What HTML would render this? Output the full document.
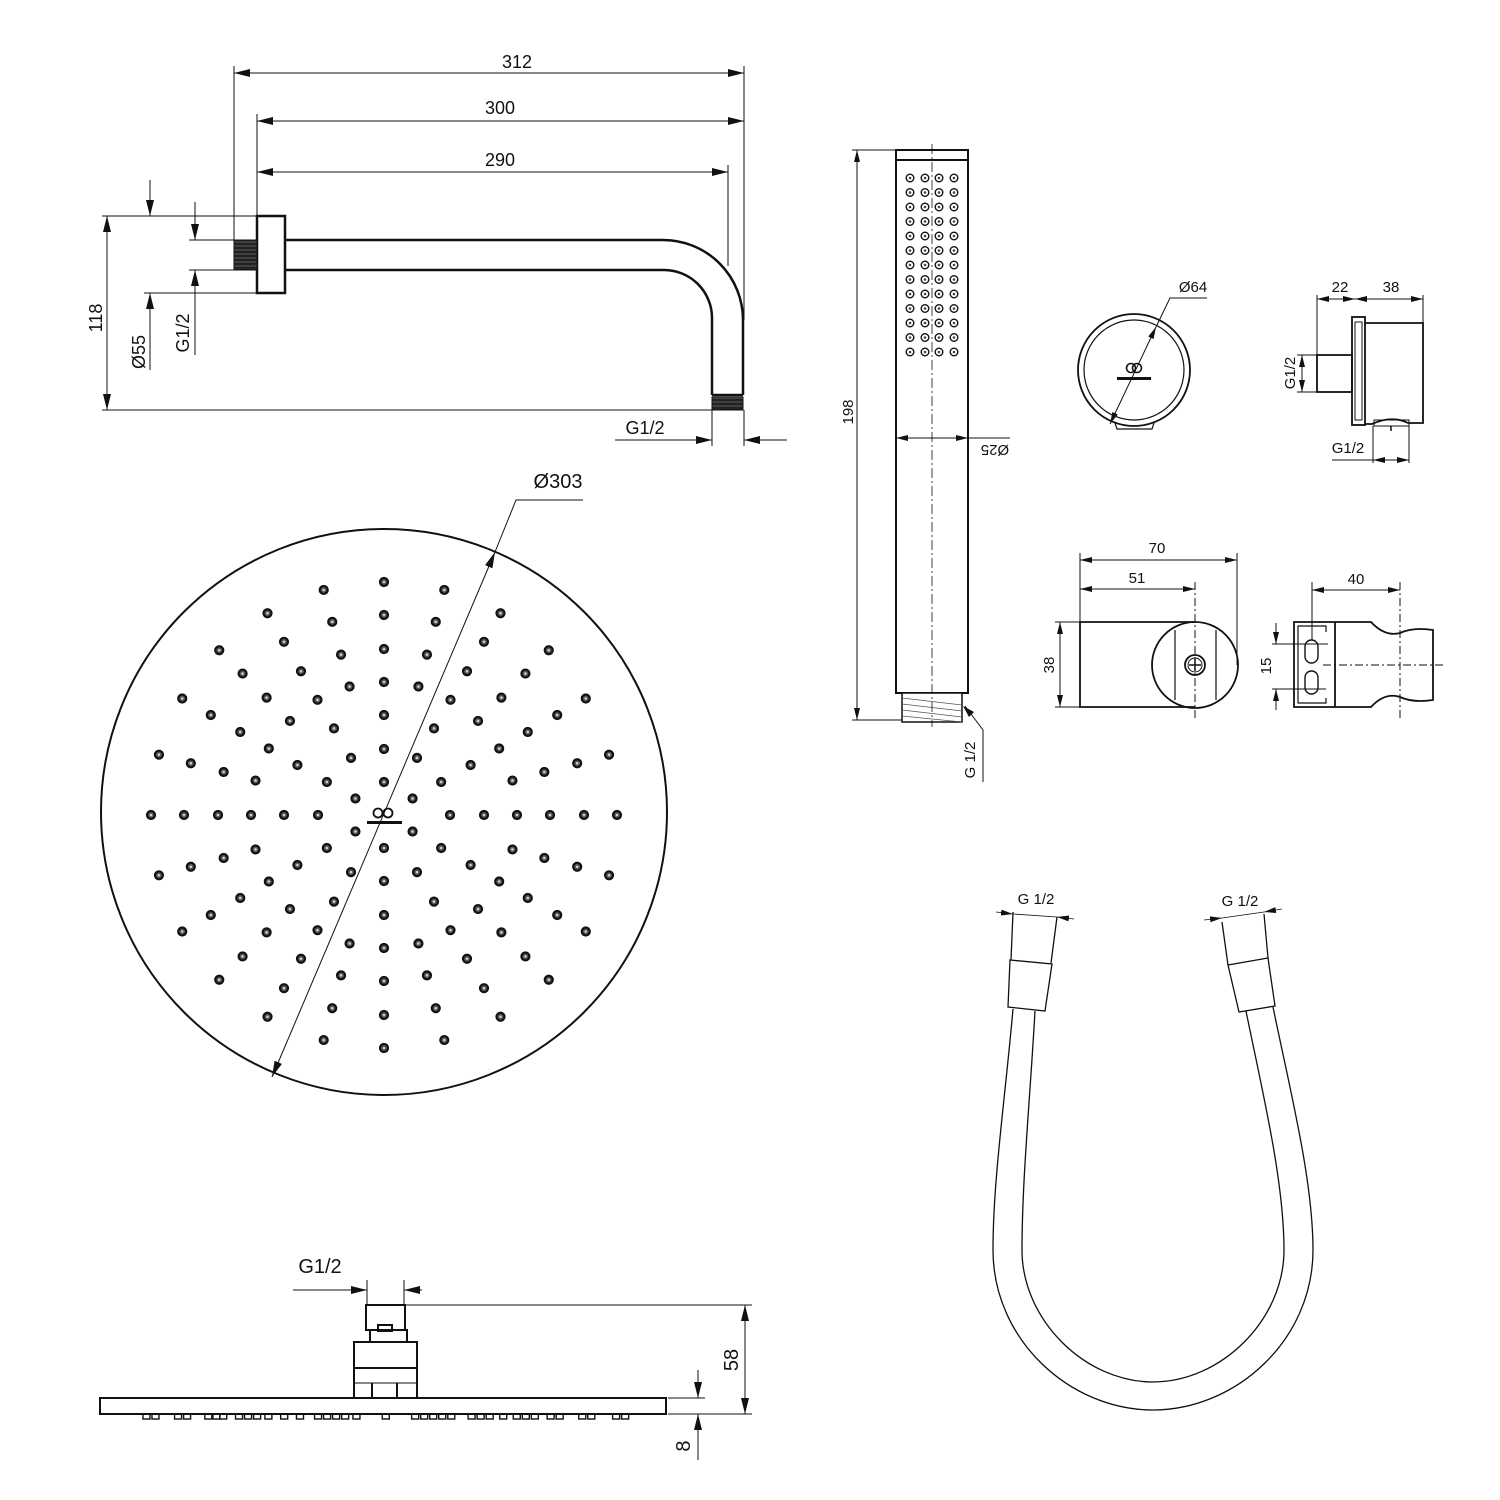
<!DOCTYPE html>
<html><head><meta charset="utf-8"><style>
html,body{margin:0;padding:0;background:#fff}
svg{display:block}
text{font-family:"Liberation Sans",sans-serif;fill:#111}
</style></head><body>
<svg id="s" width="1500" height="1500" viewBox="0 0 1500 1500" xmlns="http://www.w3.org/2000/svg">
<defs>
<marker id="a" viewBox="0 0 12 6" refX="12" refY="3" markerWidth="12" markerHeight="6" markerUnits="userSpaceOnUse" orient="auto-start-reverse"><path d="M0,0 L12,3 L0,6 Z" fill="#111"/></marker>
<marker id="b" viewBox="0 0 16 8" refX="16" refY="4" markerWidth="16" markerHeight="8" markerUnits="userSpaceOnUse" orient="auto-start-reverse"><path d="M0,0 L16,4 L0,8 Z" fill="#111"/></marker>
<pattern id="h" width="4" height="4" patternUnits="userSpaceOnUse"><rect width="4" height="4" fill="#222"/><line x1="0" y1="2" x2="4" y2="2" stroke="#888" stroke-width="0.6"/></pattern>
</defs>
<g fill="none" stroke="#111" stroke-width="1">
<g stroke-width="2.5">
<rect x="257" y="216" width="28" height="77"/>
<path d="M285,240 H663 A80,80 0 0 1 743,320 V395"/>
<path d="M285,270 H664 A48,48 0 0 1 712,318 V395"/>
<line x1="712" y1="395" x2="743" y2="395"/>
</g>
<rect x="234" y="240" width="23" height="30" fill="url(#h)" stroke="#111"/>
<rect x="712" y="397" width="31" height="13" fill="url(#h)" stroke="#111"/>
<line x1="234" y1="66" x2="234" y2="240"/>
<line x1="744" y1="66" x2="744" y2="320"/>
<line x1="257" y1="114" x2="257" y2="216"/>
<line x1="728" y1="165" x2="728" y2="266"/>
<line x1="234" y1="73" x2="744" y2="73" marker-start="url(#b)" marker-end="url(#b)"/>
<line x1="257" y1="121" x2="744" y2="121" marker-start="url(#b)" marker-end="url(#b)"/>
<line x1="257" y1="172" x2="728" y2="172" marker-start="url(#b)" marker-end="url(#b)"/>
<line x1="102" y1="216" x2="257" y2="216"/>
<line x1="102" y1="410" x2="712" y2="410"/>
<line x1="107" y1="216" x2="107" y2="410" marker-start="url(#b)" marker-end="url(#b)"/>
<line x1="144" y1="293" x2="257" y2="293"/>
<line x1="150" y1="180" x2="150" y2="216" marker-end="url(#b)"/>
<line x1="150" y1="370" x2="150" y2="293" marker-end="url(#b)"/>
<line x1="189" y1="240" x2="234" y2="240"/>
<line x1="189" y1="270" x2="234" y2="270"/>
<line x1="195" y1="202" x2="195" y2="240" marker-end="url(#b)"/>
<line x1="195" y1="355" x2="195" y2="270" marker-end="url(#b)"/>
<line x1="712" y1="410" x2="712" y2="446"/>
<line x1="744" y1="410" x2="744" y2="446"/>
<line x1="615" y1="440" x2="712" y2="440" marker-end="url(#b)"/>
<line x1="787" y1="440" x2="744" y2="440" marker-end="url(#b)"/>
</g>
<text x="517" y="68" font-size="18" text-anchor="middle">312</text>
<text x="500" y="114" font-size="18" text-anchor="middle">300</text>
<text x="500" y="166" font-size="18" text-anchor="middle">290</text>
<text font-size="18" text-anchor="middle" transform="translate(102,318) rotate(-90)">118</text>
<text font-size="18" text-anchor="middle" transform="translate(145,352) rotate(-90)">Ø55</text>
<text font-size="18" text-anchor="middle" transform="translate(189,333) rotate(-90)">G1/2</text>
<text x="645" y="434" font-size="18" text-anchor="middle">G1/2</text>

<circle cx="384" cy="812" r="283" fill="none" stroke="#111" stroke-width="2"/>
<g id="dots"></g>
<g fill="#111"><circle cx="378" cy="813" r="4.5" fill="none" stroke="#111" stroke-width="1.8"/><circle cx="388" cy="813" r="4.5" fill="none" stroke="#111" stroke-width="1.8"/><rect x="367" y="821" width="35" height="3"/></g>
<line x1="272" y1="1077" x2="495" y2="552" stroke="#111" stroke-width="1" marker-start="url(#b)" marker-end="url(#b)"/>
<polyline points="495,552 516,500 583,500" fill="none" stroke="#111" stroke-width="1"/>
<text x="558" y="488" font-size="20" text-anchor="middle">Ø303</text>

<g fill="none" stroke="#111" stroke-width="2">
<rect x="100" y="1398" width="566" height="16"/>
<rect x="354" y="1342" width="63" height="56"/>
<line x1="354" y1="1368" x2="417" y2="1368"/>
<line x1="372" y1="1383" x2="372" y2="1398"/>
<line x1="397" y1="1383" x2="397" y2="1398"/>
<line x1="354" y1="1383" x2="417" y2="1383" stroke-width="1"/>
<rect x="370" y="1330" width="37" height="12"/>
<rect x="366" y="1305" width="39" height="25"/>
<rect x="378" y="1325" width="14" height="6"/>
</g>
<g id="nz" fill="none" stroke="#111" stroke-width="1.4"></g>
<g fill="none" stroke="#111" stroke-width="1">
<line x1="367" y1="1280" x2="367" y2="1305"/>
<line x1="404" y1="1280" x2="404" y2="1305"/>
<line x1="293" y1="1290" x2="367" y2="1290" marker-end="url(#b)"/>
<line x1="422" y1="1290" x2="404" y2="1290" marker-end="url(#b)"/>
<line x1="405" y1="1305" x2="752" y2="1305"/>
<line x1="668" y1="1398" x2="705" y2="1398"/>
<line x1="668" y1="1414" x2="752" y2="1414"/>
<line x1="745" y1="1305" x2="745" y2="1414" marker-start="url(#b)" marker-end="url(#b)"/>
<line x1="698" y1="1370" x2="698" y2="1398" marker-end="url(#b)"/>
<line x1="698" y1="1460" x2="698" y2="1414" marker-end="url(#b)"/>
</g>
<text x="320" y="1273" font-size="20" text-anchor="middle">G1/2</text>
<text font-size="20" text-anchor="middle" transform="translate(738,1360) rotate(-90)">58</text>
<text font-size="20" text-anchor="middle" transform="translate(690,1446) rotate(-90)">8</text>

<g fill="none" stroke="#111" stroke-width="2">
<rect x="896" y="150" width="72" height="543"/>
<line x1="896" y1="160" x2="968" y2="160"/>
</g>
<rect x="902" y="693" width="60" height="29" fill="#fff" stroke="#111" stroke-width="1.5"/>
<g stroke="#555" stroke-width="0.8"><line x1="902" y1="698" x2="962" y2="705"/><line x1="902" y1="704" x2="962" y2="711"/><line x1="902" y1="710" x2="962" y2="717"/><line x1="902" y1="716" x2="962" y2="722"/></g>
<line x1="932" y1="144" x2="932" y2="727" stroke="#111" stroke-width="0.8" stroke-dasharray="10,3,2,3"/>
<g id="hd"></g>
<g fill="none" stroke="#111" stroke-width="1">
<line x1="852" y1="150" x2="896" y2="150"/>
<line x1="852" y1="720" x2="902" y2="720"/>
<line x1="857" y1="150" x2="857" y2="720" marker-start="url(#a)" marker-end="url(#a)"/>
<line x1="896" y1="438" x2="968" y2="438" marker-start="url(#a)" marker-end="url(#a)"/>
<line x1="968" y1="438" x2="1010" y2="438"/>
<polyline points="965,706 983,730 983,782"/>
</g>
<polygon points="963,706 974,712 969,717" fill="#111"/>
<text font-size="15" text-anchor="middle" transform="translate(853,412) rotate(-90)">198</text>
<text font-size="15" text-anchor="middle" transform="translate(995,445) rotate(180)">Ø25</text>
<text font-size="15" text-anchor="middle" transform="translate(975,760) rotate(-90)">G 1/2</text>

<g fill="none" stroke="#111" stroke-width="1.8">
<circle cx="1134" cy="370" r="56"/>
<circle cx="1134" cy="370" r="50" stroke-width="1.2"/>
<path d="M1115,423 L1117,429 H1152 L1154,423" stroke-width="1.2"/>
</g>
<g fill="#111"><circle cx="1131" cy="368" r="4.5" fill="none" stroke="#111" stroke-width="1.6"/><circle cx="1137" cy="368" r="4.5" fill="none" stroke="#111" stroke-width="1.6"/><rect x="1117" y="377" width="34" height="3"/></g>
<line x1="1110" y1="424" x2="1156" y2="327" stroke="#111" stroke-width="1" marker-start="url(#a)" marker-end="url(#a)"/>
<polyline points="1156,327 1170,298 1207,298" fill="none" stroke="#111" stroke-width="1"/>
<text x="1193" y="292" font-size="15" text-anchor="middle">Ø64</text>

<g fill="none" stroke="#111" stroke-width="1.8">
<rect x="1352" y="317" width="13" height="108"/>
<rect x="1355" y="322" width="7" height="98" stroke-width="1"/>
<path d="M1365,323 H1423 V423 H1408 Q1392,415 1372,424 H1365"/>
<rect x="1317" y="355" width="35" height="37"/>
<rect x="1374" y="420" width="35" height="6" stroke-width="1"/>
<line x1="1391" y1="426" x2="1391" y2="431" stroke-width="1.5"/>
</g>
<g fill="none" stroke="#111" stroke-width="1">
<line x1="1317" y1="295" x2="1317" y2="355"/>
<line x1="1423" y1="295" x2="1423" y2="323"/>
<line x1="1317" y1="299" x2="1355" y2="299" marker-start="url(#a)" marker-end="url(#a)"/>
<line x1="1355" y1="299" x2="1423" y2="299" marker-start="url(#a)" marker-end="url(#a)"/>
<line x1="1297" y1="355" x2="1317" y2="355"/>
<line x1="1297" y1="392" x2="1317" y2="392"/>
<line x1="1302" y1="355" x2="1302" y2="392" marker-start="url(#a)" marker-end="url(#a)"/>
<line x1="1373" y1="426" x2="1373" y2="463"/>
<line x1="1409" y1="426" x2="1409" y2="463"/>
<line x1="1332" y1="460" x2="1409" y2="460"/>
<line x1="1373" y1="460" x2="1409" y2="460" marker-start="url(#a)" marker-end="url(#a)"/>
</g>
<text x="1340" y="292" font-size="15" text-anchor="middle">22</text>
<text x="1391" y="292" font-size="15" text-anchor="middle">38</text>
<text font-size="15" text-anchor="middle" transform="translate(1295,373) rotate(-90)">G1/2</text>
<text x="1348" y="453" font-size="15" text-anchor="middle">G1/2</text>

<g fill="none" stroke="#111" stroke-width="1.8">
<path d="M1195,622 H1080 V707 H1195"/>
<circle cx="1195" cy="665" r="43"/>
<line x1="1175" y1="630" x2="1175" y2="700" stroke-width="1.2"/>
<line x1="1216" y1="630" x2="1216" y2="700" stroke-width="1.2"/>
<circle cx="1195" cy="665" r="10"/>
<circle cx="1195" cy="665" r="7" stroke-width="1"/>
<path d="M1189,665 H1201 M1195,659 V671" stroke-width="1.5"/>
</g>
<g fill="none" stroke="#111" stroke-width="1">
<line x1="1080" y1="553" x2="1080" y2="622"/>
<line x1="1237" y1="553" x2="1237" y2="665"/>
<line x1="1195" y1="582" x2="1195" y2="720" stroke-dasharray="8,3,2,3"/>
<line x1="1080" y1="560" x2="1237" y2="560" marker-start="url(#a)" marker-end="url(#a)"/>
<line x1="1080" y1="589" x2="1195" y2="589" marker-start="url(#a)" marker-end="url(#a)"/>
<line x1="1055" y1="622" x2="1080" y2="622"/>
<line x1="1055" y1="707" x2="1080" y2="707"/>
<line x1="1060" y1="622" x2="1060" y2="707" marker-start="url(#a)" marker-end="url(#a)"/>
</g>
<text x="1157" y="553" font-size="15" text-anchor="middle">70</text>
<text x="1137" y="583" font-size="15" text-anchor="middle">51</text>
<text font-size="15" text-anchor="middle" transform="translate(1054,665) rotate(-90)">38</text>

<g fill="none" stroke="#111" stroke-width="1.8">
<path d="M1294,622 H1371 Q1385,637 1400,633 Q1413,627 1433,630 V700 Q1413,703 1400,697 Q1385,692 1371,707 H1294 Z"/>
<line x1="1335" y1="622" x2="1335" y2="707"/>
<path d="M1326,632 V626 H1298 V703 H1326 V698" stroke-width="1.2"/>
<rect x="1305" y="640" width="13" height="23" rx="6.5" stroke-width="1.4"/>
<rect x="1305" y="671" width="13" height="23" rx="6.5" stroke-width="1.4"/>
</g>
<g fill="none" stroke="#111" stroke-width="1">
<line x1="1312" y1="582" x2="1312" y2="640"/>
<line x1="1400" y1="582" x2="1400" y2="720" stroke-dasharray="8,3,2,3"/>
<line x1="1312" y1="590" x2="1400" y2="590" marker-start="url(#a)" marker-end="url(#a)"/>
<line x1="1323" y1="665" x2="1443" y2="665" stroke-dasharray="8,3,2,3"/>
<line x1="1272" y1="644" x2="1328" y2="644"/>
<line x1="1272" y1="689" x2="1326" y2="689"/>
<line x1="1276" y1="623" x2="1276" y2="644" marker-end="url(#a)"/>
<line x1="1276" y1="710" x2="1276" y2="689" marker-end="url(#a)"/>
</g>
<text x="1356" y="584" font-size="15" text-anchor="middle">40</text>
<text font-size="15" text-anchor="middle" transform="translate(1271,666) rotate(-90)">15</text>

<g fill="none" stroke="#111" stroke-width="1.3">
<path d="M1013,912 L1011,960 M1057,917 L1051,963"/>
<path d="M1010,960 L1052,964 L1045,1011 L1008,1007 Z"/>
<path d="M1222,922 L1228,965 M1264,914 L1268,958"/>
<path d="M1228,965 L1268,958 L1275,1006 L1239,1012 Z"/>
<path d="M1013,1009 C1005,1100 993,1180 993,1250 C993,1340 1070,1410 1153,1410 C1236,1410 1313,1340 1313,1250 C1313,1180 1290,1090 1273,1007"/>
<path d="M1035,1011 C1030,1100 1022,1180 1022,1250 C1022,1320 1085,1382 1153,1382 C1221,1382 1284,1320 1284,1250 C1284,1180 1262,1090 1246,1011"/>
</g>
<g fill="none" stroke="#111" stroke-width="0.8">
<line x1="996" y1="912" x2="1013" y2="914" marker-end="url(#a)"/>
<line x1="1013" y1="914" x2="1057" y2="917"/>
<line x1="1074" y1="919" x2="1057" y2="917" marker-end="url(#a)"/>
<line x1="1204" y1="920" x2="1222" y2="918" marker-end="url(#a)"/>
<line x1="1222" y1="918" x2="1264" y2="912"/>
<line x1="1282" y1="909" x2="1264" y2="912" marker-end="url(#a)"/>
</g>
<text x="1036" y="904" font-size="15" text-anchor="middle">G 1/2</text>
<text x="1240" y="906" font-size="15" text-anchor="middle">G 1/2</text>
</svg>
<script>
var NS="http://www.w3.org/2000/svg";
function dot(g,x,y,r,sw,fill,inner){var c=document.createElementNS(NS,"circle");c.setAttribute("cx",x);c.setAttribute("cy",y);c.setAttribute("r",r);c.setAttribute("fill",fill);c.setAttribute("stroke","#111");c.setAttribute("stroke-width",sw);g.appendChild(c);
var d=document.createElementNS(NS,"circle");d.setAttribute("cx",x);d.setAttribute("cy",y);d.setAttribute("r",1.3);d.setAttribute("fill",inner);g.appendChild(d);}
var g=document.getElementById("dots");
var rings=[[33,6],[66,12],[100,12],[133,24],[166,24],[200,24],[233,24]];
rings.forEach(function(rn){for(var i=0;i<rn[1];i++){var a=i*2*Math.PI/rn[1];dot(g,384+rn[0]*Math.sin(a),815-rn[0]*Math.cos(a),4,2.2,"#555","#ccc");}});
var h=document.getElementById("hd");
for(var r=0;r<13;r++){[910,925,939,954].forEach(function(x){dot(h,x,178+r*14.5,3.8,1.4,"#fff","#444");});}
var nz=document.getElementById("nz");
[125,145,195,215,262,280,295,330,350,370,395,430,465,505,525,545,565,590,655,720,740,760,780,800,845,865,885,915,945,965,985,1020,1040,1090,1110,1165,1185].forEach(function(zx){var x=90+zx*0.4516;var rc=document.createElementNS(NS,"rect");rc.setAttribute("x",x-3.5);rc.setAttribute("y",1414);rc.setAttribute("width",7);rc.setAttribute("height",5);nz.appendChild(rc);});
</script>
</body></html>
